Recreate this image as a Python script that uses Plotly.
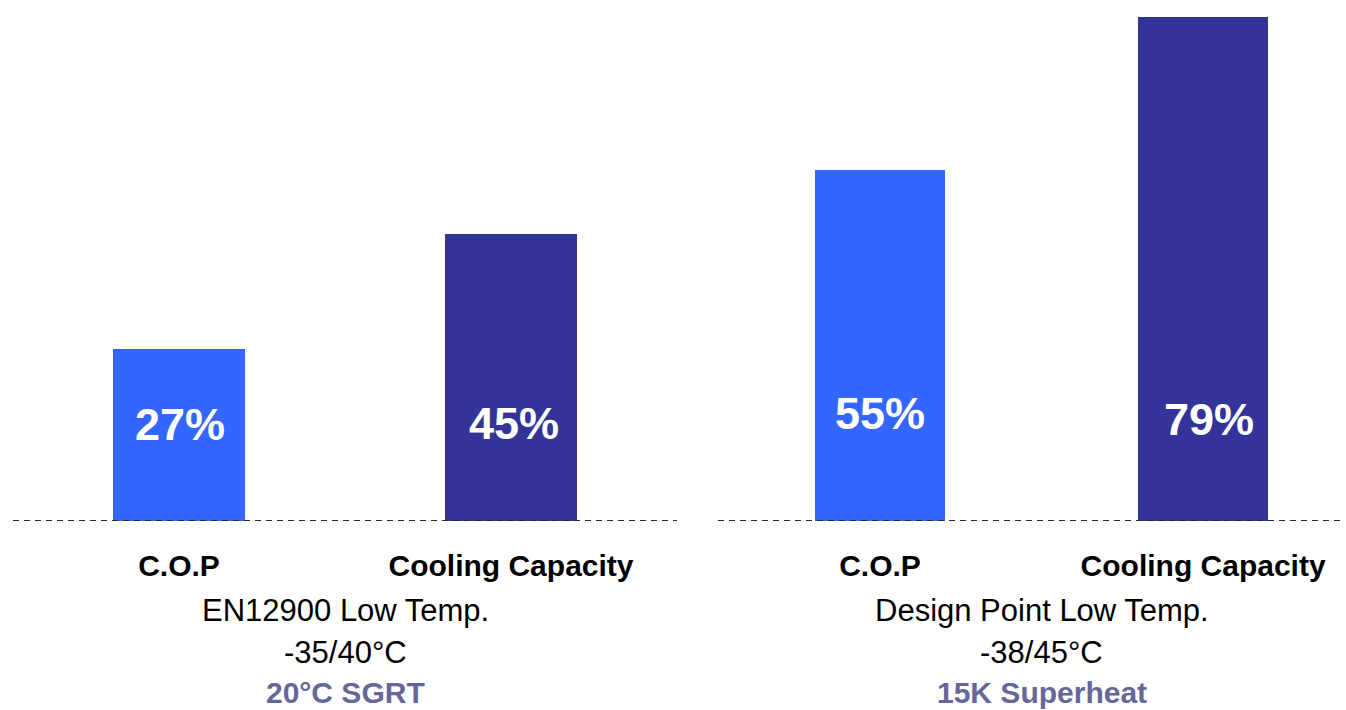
import plotly.graph_objects as go

# ---- data ----
categories = ["C.O.P", "Cooling Capacity"]
en12900_values = [27, 45]
design_point_values = [55, 79]
panel_titles = ["EN12900 Low Temp.", "Design Point Low Temp."]
panel_conditions = ["-35/40°C", "-38/45°C"]
panel_notes = ["20°C SGRT", "15K Superheat"]

# ---- style ----
BAR_COLORS = ["#3366FF", "#333399"]
NOTE_COLOR = "#666699"
FONT = "Liberation Sans, Arial, sans-serif"
W, H = 1346, 710
BASE_PX = 521
PX_PER_UNIT = 6.38
LABEL_RISE = [[97, 98], [108, 102]]
LABEL_XSHIFT = [[1, 3], [0, 6]]
SUB_SHIFTS = [-89, -131, -171]
SUB_SIZES = [31, 31, 30]

fig = go.Figure()
panels = [("x", en12900_values), ("x2", design_point_values)]
for i, (xa, vals) in enumerate(panels):
    fig.add_trace(go.Bar(
        x=categories, y=vals, xaxis=xa, yaxis="y",
        marker=dict(color=BAR_COLORS, line=dict(width=0)),
        width=0.4, showlegend=False, hoverinfo="skip",
    ))
    for j, (c, v) in enumerate(zip(categories, vals)):
        fig.add_annotation(
            x=c, xref=xa, y=0, yref="paper", yanchor="middle",
            yshift=LABEL_RISE[i][j], xshift=LABEL_XSHIFT[i][j],
            text=f"{v}%", showarrow=False,
            font=dict(family=FONT, size=45, color="white", weight="bold"),
        )
    lines = [
        (panel_titles[i], "black", "normal"),
        (panel_conditions[i], "black", "normal"),
        (panel_notes[i], NOTE_COLOR, "bold"),
    ]
    for (txt, col, wt), ys, sz in zip(lines, SUB_SHIFTS, SUB_SIZES):
        fig.add_annotation(
            x=0.5, xref=xa, y=0, yref="paper", yanchor="middle", yshift=ys,
            text=txt, showarrow=False, borderpad=0,
            font=dict(family=FONT, size=sz, color=col, weight=wt),
        )
    fig.add_shape(
        type="line", xref=f"{xa} domain", x0=0, x1=1, yref="y", y0=0, y1=0,
        line=dict(color="#2a2a2a", width=2, dash="6px,5px"), layer="above",
    )

axis_common = dict(
    type="category", showgrid=False, zeroline=False, showline=False,
    ticks="", ticklabelstandoff=24, fixedrange=True,
    tickfont=dict(family=FONT, size=30, color="black", weight="bold"),
)
fig.update_layout(
    width=W, height=H,
    margin=dict(l=0, r=0, t=0, b=H - BASE_PX, pad=0),
    paper_bgcolor="white", plot_bgcolor="white",
    bargap=0,
    xaxis=dict(domain=[13 / W, 677 / W], range=[-0.5, 1.5], anchor="y", **axis_common),
    xaxis2=dict(domain=[718 / W, 1343 / W], range=[-0.5015, 1.433], anchor="y", **axis_common),
    yaxis=dict(visible=False, range=[0, BASE_PX / PX_PER_UNIT], fixedrange=True),
)

fig.write_html("out.html")
